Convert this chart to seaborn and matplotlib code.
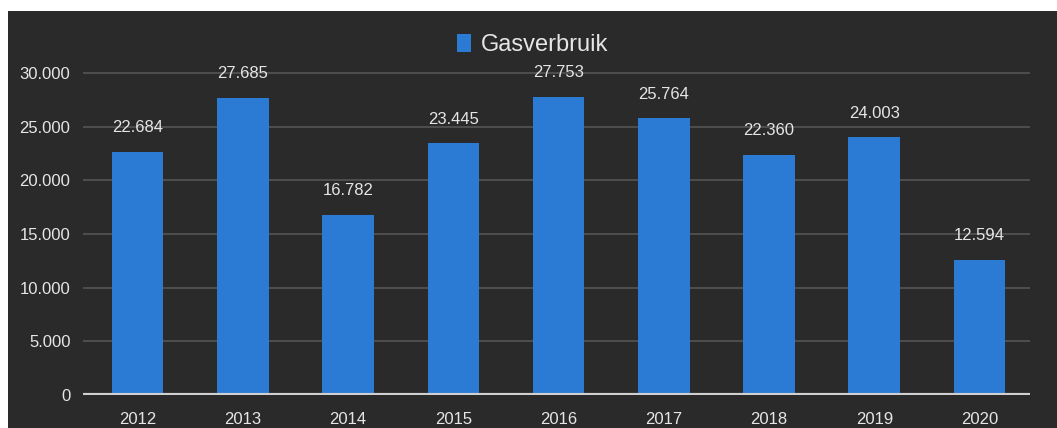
import matplotlib
matplotlib.use("Agg")
import matplotlib.pyplot as plt
import matplotlib.patches as mpatches
import seaborn as sns
import pandas as pd

years = ["2012", "2013", "2014", "2015", "2016", "2017", "2018", "2019", "2020"]
gas = [22684, 27685, 16782, 23445, 27753, 25764, 22360, 24003, 12594]
yticks = [0, 5000, 10000, 15000, 20000, 25000, 30000]
series_name = "Gasverbruik"

def fmt(v):
    return f"{v:,.0f}".replace(",", ".")

df = pd.DataFrame({"jaar": years, "verbruik": gas})

sns.set_theme(style="dark")
plt.rcParams["font.family"] = ["Liberation Sans Narrow", "Liberation Sans", "DejaVu Sans"]

W, H = 1057, 428
fig = plt.figure(figsize=(W / 100, H / 100), dpi=100)
fig.patch.set_facecolor("white")
# dark chart background
fig.patches.append(mpatches.Rectangle((8 / W, 0), 1 - 8 / W, (H - 11) / H,
                                      transform=fig.transFigure, facecolor="#2a2a2a",
                                      edgecolor="none", zorder=-5))

ax_l, ax_r = 83 / W, 1030 / W
ax_b = (H - 395) / H
ax_t = (H - 20) / H
ax = fig.add_axes([ax_l, ax_b, ax_r - ax_l, ax_t - ax_b])
ax.set_zorder(2)
ax.set_facecolor("none")

blue = "#2b7ad3"
sns.barplot(data=df, x="jaar", y="verbruik", color=blue, width=0.49, ax=ax,
            saturation=1, edgecolor="none", zorder=3, label=series_name)

top = 30000 * (395 - 20) / (395 - 73)
ax.set_ylim(0, top)
ax.set_xlim(-0.52, 8.48)
ax.set_yticks(yticks)
ax.set_yticklabels([fmt(v) for v in yticks])
ax.grid(axis="y", color="#555555", linewidth=1.2, zorder=0)
ax.grid(axis="x", visible=False)
for s in ax.spines.values():
    s.set_visible(False)
ax.axhline(0, color="#d0d0d0", linewidth=3, zorder=4)
ax.set_xlabel("")
ax.set_ylabel("")
ax.tick_params(axis="both", length=0, colors="#e6e6e6", labelsize=12)
ax.tick_params(axis="y", pad=9)
ax.tick_params(axis="x", pad=12)

for c in ax.containers:
    ax.bar_label(c, labels=[fmt(v) for v in gas], padding=12, color="#e6e6e6", fontsize=12)

leg = ax.legend(loc="upper center", bbox_to_anchor=(0.475, 1.02), frameon=False,
                fontsize=17, handlelength=0.6, handleheight=0.8, handletextpad=0.4,
                labelcolor="#e6e6e6")

fig.savefig("out.png", dpi=100, facecolor=fig.get_facecolor())
